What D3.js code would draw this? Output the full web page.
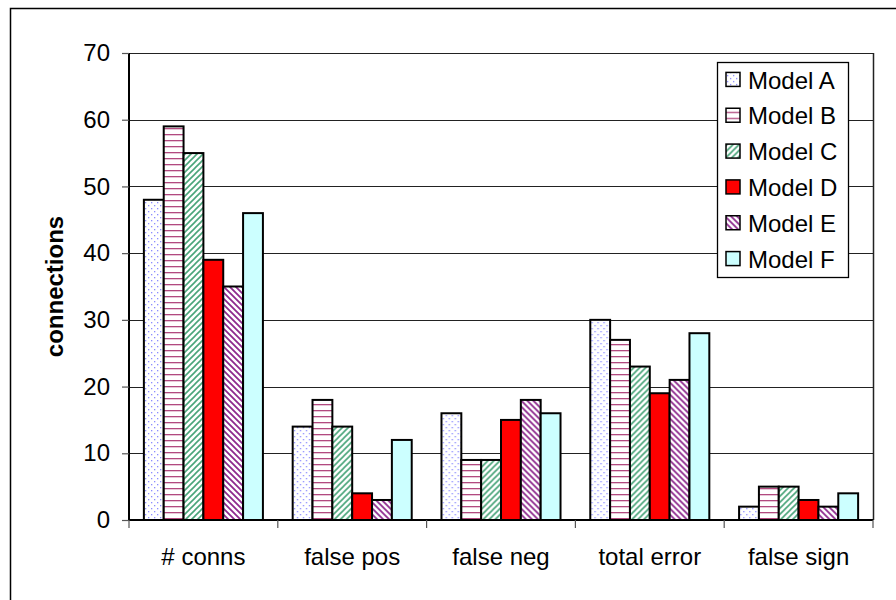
<!DOCTYPE html>
<html>
<head>
<meta charset="utf-8">
<script src="https://cdn.jsdelivr.net/npm/d3@7"></script>
<style>
  html, body { margin: 0; padding: 0; background: #fff; }
  svg { display: block; font-family: Arial, "Liberation Sans", sans-serif; }
</style>
</head>
<body>
<svg id="chart" width="896" height="600"></svg>
<script>
// Categories along the x axis
const categories = ["# conns", "false pos", "false neg", "total error", "false sign"];
// Series names
const models = ["Model A", "Model B", "Model C", "Model D", "Model E", "Model F"];
// Values per model, one per category
const modelA = [48, 14, 16, 30, 2];
const modelB = [59, 18, 9, 27, 5];
const modelC = [55, 14, 9, 23, 5];
const modelD = [39, 4, 15, 19, 3];
const modelE = [35, 3, 18, 21, 2];
const modelF = [46, 12, 16, 28, 4];
const yTicks = [0, 10, 20, 30, 40, 50, 60, 70];
const yLabel = "connections";

const seriesValues = [modelA, modelB, modelC, modelD, modelE, modelF];

const svg = d3.select("#chart");
const plotLeft = 129, plotRight = 873, plotTop = 53, plotBottom = 520;

// Fill patterns for each series
const defs = svg.append("defs");

// Model A: sparse blue dots
const pA = defs.append("pattern").attr("id", "pA").attr("patternUnits", "userSpaceOnUse")
  .attr("width", 6).attr("height", 6);
pA.append("rect").attr("width", 6).attr("height", 6).attr("fill", "#fff");
pA.append("rect").attr("x", 1).attr("y", 1).attr("width", 1.3).attr("height", 1.3).attr("fill", "#8c8cff");
pA.append("rect").attr("x", 4).attr("y", 4).attr("width", 1.3).attr("height", 1.3).attr("fill", "#8c8cff");

// Model B: horizontal maroon lines
const pB = defs.append("pattern").attr("id", "pB").attr("patternUnits", "userSpaceOnUse")
  .attr("width", 6).attr("height", 6);
pB.append("rect").attr("width", 6).attr("height", 6).attr("fill", "#fff");
pB.append("rect").attr("x", 0).attr("y", 2).attr("width", 6).attr("height", 1.3).attr("fill", "#b24a80");

// Model C: green forward diagonals
const pC = defs.append("pattern").attr("id", "pC").attr("patternUnits", "userSpaceOnUse")
  .attr("width", 6).attr("height", 6);
pC.append("rect").attr("width", 6).attr("height", 6).attr("fill", "#fff");
pC.append("path").attr("d", "M-1,1 L1,-1 M0,6 L6,0 M5,7 L7,5")
  .attr("stroke", "#4aa57a").attr("stroke-width", 1.6);

// Model E: purple backward diagonals
const pE = defs.append("pattern").attr("id", "pE").attr("patternUnits", "userSpaceOnUse")
  .attr("width", 6).attr("height", 6);
pE.append("rect").attr("width", 6).attr("height", 6).attr("fill", "#fff");
pE.append("path").attr("d", "M-1,5 L1,7 M0,0 L6,6 M5,-1 L7,1")
  .attr("stroke", "#8e2a8e").attr("stroke-width", 1.8);

const fills = ["url(#pA)", "url(#pB)", "url(#pC)", "#ff0000", "url(#pE)", "#ccffff"];

// Outer frame
svg.append("rect").attr("x", 10.5).attr("y", 8.5).attr("width", 900).attr("height", 600)
  .attr("fill", "none").attr("stroke", "#000").attr("stroke-width", 1.5);

// Scales
const x0 = d3.scaleBand().domain(categories).range([plotLeft, plotRight]).padding(0);
const bw = x0.bandwidth();
const inset = bw * 0.75 / 7.5;
const x1 = d3.scaleBand().domain(models).range([inset, bw - inset]).padding(0);
const y = d3.scaleLinear().domain([0, 70]).range([plotBottom, plotTop]);

// Gridlines
svg.append("g").selectAll("line").data(yTicks.filter(t => t > 0)).join("line")
  .attr("x1", plotLeft).attr("x2", plotRight)
  .attr("y1", d => Math.round(y(d)) + 0.5).attr("y2", d => Math.round(y(d)) + 0.5)
  .attr("stroke", "#222").attr("stroke-width", 1);

// Plot area right edge
svg.append("line").attr("x1", plotRight + 0.5).attr("x2", plotRight + 0.5)
  .attr("y1", plotTop).attr("y2", plotBottom)
  .attr("stroke", "#222").attr("stroke-width", 1.5);

// Bars
const groups = svg.append("g").selectAll("g").data(categories).join("g")
  .attr("transform", d => `translate(${x0(d)},0)`);
groups.selectAll("rect")
  .data((c, ci) => models.map((m, mi) => ({ m, mi, v: seriesValues[mi][ci] })))
  .join("rect")
  .attr("x", d => x1(d.m))
  .attr("y", d => y(d.v))
  .attr("width", x1.bandwidth())
  .attr("height", d => plotBottom - y(d.v))
  .attr("fill", d => fills[d.mi])
  .attr("stroke", "#000").attr("stroke-width", 2);

// Y axis
const yAxis = d3.axisLeft(y).tickValues(yTicks).tickSize(7).tickPadding(12);
const gy = svg.append("g").attr("transform", `translate(${plotLeft},0)`).call(yAxis);
gy.select(".domain").attr("stroke", "#000").attr("stroke-width", 2)
  .attr("d", `M0,${plotTop}V${plotBottom}`);
gy.selectAll(".tick line").attr("stroke", "#555").attr("stroke-width", 1.2);
gy.selectAll(".tick text").attr("font-size", 24).attr("fill", "#000")
  .attr("font-family", "Arial, 'Liberation Sans', sans-serif");

// X axis
const gx = svg.append("g").attr("transform", `translate(0,${plotBottom})`);
gx.append("line").attr("x1", plotLeft).attr("x2", plotRight).attr("y1", 0).attr("y2", 0)
  .attr("stroke", "#000").attr("stroke-width", 2);
const bounds = categories.map(c => x0(c)).concat([plotRight]);
gx.selectAll("line.tk").data(bounds).join("line").attr("class", "tk")
  .attr("x1", d => d).attr("x2", d => d).attr("y1", 0).attr("y2", 8)
  .attr("stroke", "#555").attr("stroke-width", 1.2);
gx.selectAll("text").data(categories).join("text")
  .attr("x", d => x0(d) + bw / 2).attr("y", 45)
  .attr("text-anchor", "middle").attr("font-size", 24).attr("fill", "#000")
  .text(d => d);

// Y axis title
svg.append("text")
  .attr("transform", `translate(63,${(plotTop + plotBottom) / 2}) rotate(-90)`)
  .attr("text-anchor", "middle").attr("font-size", 24).attr("font-weight", "bold")
  .text(yLabel);

// Legend
const lg = svg.append("g");
lg.append("rect").attr("x", 717.5).attr("y", 62.5).attr("width", 131).attr("height", 215)
  .attr("fill", "#fff").attr("stroke", "#000").attr("stroke-width", 1.3);
const rowH = 215 / 6;
const items = lg.selectAll("g.item").data(models).join("g").attr("class", "item")
  .attr("transform", (d, i) => `translate(0,${62 + rowH * (i + 0.5)})`);
items.append("rect").attr("x", 726).attr("y", -7.5).attr("width", 14).attr("height", 14)
  .attr("fill", (d, i) => fills[i]).attr("stroke", "#000").attr("stroke-width", 1.5);
items.append("text").attr("x", 748).attr("y", 0).attr("dy", "0.36em")
  .attr("font-size", 24).attr("fill", "#000").text(d => d);
</script>
</body>
</html>
